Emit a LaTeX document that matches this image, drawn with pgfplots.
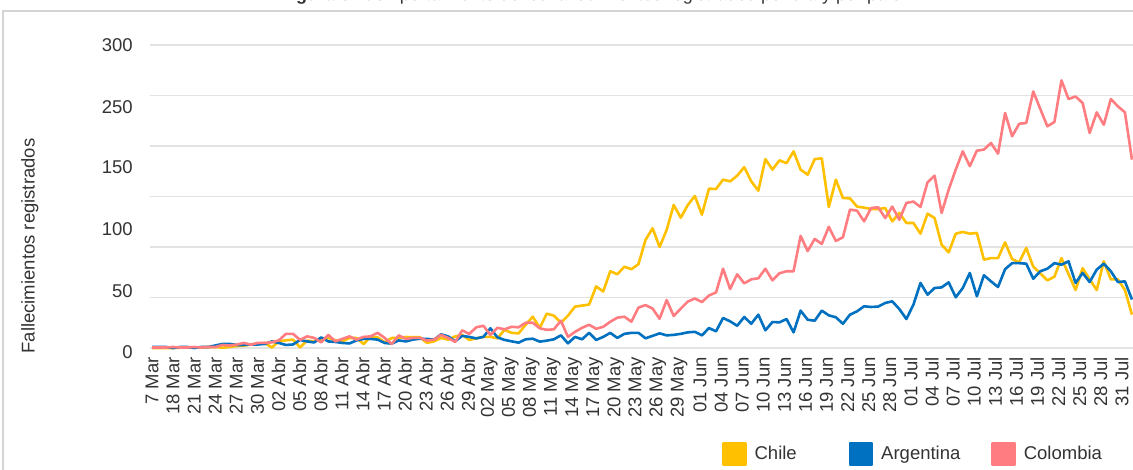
\documentclass[border=0pt]{standalone}
\usepackage{fontspec}
\setmainfont{Liberation Sans}
\usepackage{pgfplots}
\pgfplotsset{compat=1.18}
\usepackage{pgfplotstable}

\definecolor{chileC}{HTML}{FFC000}
\definecolor{argC}{HTML}{0070C0}
\definecolor{colC}{HTML}{FF7C80}
\definecolor{txt}{HTML}{333333}
\definecolor{gridC}{HTML}{E3E3E3}
\definecolor{frameC}{HTML}{D4D4D4}
\newcommand\fs{\fontsize{18.5bp}{22bp}\selectfont}

\pgfplotstableread{
i chile arg col
0 0 1 0.5
1 0 1 0.5
2 0 1 0.5
3 0 0 1
4 0.3 1 0.5
5 0.5 1 0.5
6 0.5 0 1
7 0.7 1 0.5
8 1 1 1
9 1 2.5 1
10 0.3 4 3
11 1 4 2.5
12 2 3 3.3
13 2.3 3 5
14 3.5 3.5 3.3
15 4.3 3.5 5
16 5 4 5
17 0.5 6.5 5.6
18 6.6 5 7.6
19 7.6 3 14
20 8.3 3.5 14
21 0.7 8 8
22 7.3 6.5 11.5
23 6.6 5.5 10
24 8.5 10.5 5.6
25 9.9 6.5 13
26 7.6 6 6.6
27 6.6 5 9
28 9.9 4.5 11.5
29 9.9 7.5 8.3
30 4 9 11
31 10.9 9 11.5
32 10.6 8.3 15
33 5.6 5 10
34 9.9 4.3 4
35 9.9 7.5 12.5
36 10.9 6.5 9
37 10.6 8.3 10
38 10.6 9.2 10
39 5 9 7.3
40 6.6 8.3 8.3
41 9.9 13.5 13
42 8.3 11.5 10
43 11.5 6.6 6
44 13 12 17.5
45 8 11 14
46 9.6 9.5 20.5
47 11 11 22
48 11 19.5 13
49 9.6 10.5 20
50 18 8 18.5
51 15 6.6 21
52 14.5 5.3 20.5
53 23 8.6 25
54 31 9.2 25
55 20 6.3 19.5
56 34 7.3 18
57 32 8.6 18.5
58 25 12.5 27
59 32 4.6 11
60 41 11 16
61 42 8.6 20
62 43 15 23
63 61 8 19
64 56 11 21
65 76 15 26
66 73 10 30
67 80.5 14 31
68 78 15 26
69 83 15 40
70 107 9.6 42.5
71 118.5 12 39
72 100 14.5 29
73 117 12.5 47.5
74 141.6 13 31.7
75 129 14 39
76 141.6 15.5 46
77 150.5 16 49
78 132 12.5 45.5
79 157.8 19.8 52
80 157.4 16.5 55
81 166.7 29.7 78.5
82 165 26.4 58.4
83 170.6 22 73
84 179 30.7 64
85 165 24 68
86 155.8 33 69
87 187 17.5 78.5
88 176.6 25.7 67
89 185.8 25.4 74
90 183 28.7 76
91 194.7 15.5 76
92 176.6 37 111
93 171.6 28 96
94 187 27 108
95 187.8 37 103
96 139.6 32.3 120
97 166.7 30.4 106
98 148.5 24 109.6
99 148.2 33 137
100 140 36.3 136
101 139 41.3 125.4
102 137.6 40.6 138.6
103 137.6 41 139.3
104 138.6 44.6 128.7
105 125.4 46.2 140
106 133.7 38.6 127
107 123.8 28.7 143.6
108 123.8 42.9 145
109 113.2 64.4 139.6
110 133 52.8 164
111 128.7 59.4 170.6
112 102.3 60 133.7
113 94.7 65 156.8
114 113.2 50.2 176.6
115 114.9 59.4 194.7
116 113.2 74.3 180
117 113.9 51.2 195.4
118 87.5 72 196.4
119 89 66 203
120 89 60.4 192.4
121 104.6 78 232.7
122 88 84 209.6
123 84.8 84 222
124 99 83.5 222.8
125 80.5 68.6 254
126 74 76 236.6
127 67 78.5 219.5
128 70.6 84 223.8
129 89 82.5 265
130 73.3 85.8 246.5
131 57.4 64.4 249
132 79 74.3 242.6
133 68 65.3 212.9
134 57.4 77.6 233.3
135 85.8 83.5 221
136 68 76 246.5
137 68 65.3 239.3
138 57.4 66 233.3
139 33 48 186.5
}\data

\begin{document}
\begin{tikzpicture}
\draw[frameC, line width=1.5bp] (3bp,459bp) rectangle (1150bp,-20bp);
\node[anchor=base west, font=\fontsize{18bp}{21bp}\selectfont, text=txt, inner sep=0pt] at (280bp,469.5bp)
  {\textbf{Figura 3.} Comportamiento de los fallecimientos registrados por día y por país};
\begin{axis}[
  at={(149.9bp,116.95bp)}, anchor=south west,
  x=7.05bp, y=1.01bp,
  xmin=-0.3, xmax=140.2, ymin=-5, ymax=300,
  enlargelimits=false,
  axis line style={draw=none},
  major tick length=0pt,
  tick style={draw=none},
  /pgf/number format/assume math mode=true,
  xtick={0,2.99,...,137.6},
  xticklabels={7 Mar,18 Mar,21 Mar,24 Mar,27 Mar,30 Mar,02 Abr,05 Abr,08 Abr,11 Abr,14 Abr,17 Abr,20 Abr,23 Abr,26 Abr,29 Abr,02 May,05 May,08 May,11 May,14 May,17 May,20 May,23 May,26 May,29 May,01 Jun,04 Jun,07 Jun,10 Jun,13 Jun,16 Jun,19 Jun,22 Jun,25 Jun,28 Jun,01 Jul,04 Jul,07 Jul,10 Jul,13 Jul,16 Jul,19 Jul,22 Jul,25 Jul,28 Jul,31 Jul},
  xticklabel style={rotate=90, anchor=east, inner sep=0pt, font=\fs, text=txt},
  xticklabel shift=4bp,
  ytick={-4,56.4,117.8,179.2,238.6,300},
  yticklabels={0,50,100,150,250,300},
  yticklabel style={anchor=east, inner sep=0pt, font=\fs, text=txt},
  yticklabel shift=17bp,
  extra y ticks={0,50,100,150,200,250,300},
  extra y tick labels={},
  extra y tick style={grid=major, major grid style={draw=gridC, line width=1.3bp}},
  ylabel={Fallecimientos registrados},
  ylabel style={at={(axis description cs:-0.1211,0.3475)}, anchor=center, font=\fs, text=txt},
  legend columns=3,
  legend cell align=left,
  legend style={at={(0.5776,-0.3277)}, anchor=west, draw=none, fill=none, inner sep=0pt, outer sep=0pt,
    font=\fs, text=txt, nodes={inner sep=0pt},
    /tikz/every even column/.append style={column sep=0pt},
    /tikz/every odd column/.append style={column sep=8bp}},
  legend image code/.code={\fill[#1] (0bp,-11bp) rectangle (22bp,11bp);},
]
\addplot[chileC, line width=2.6bp, line join=round] table[x=i, y=chile]{\data};
\addlegendentry{\makebox[94bp][l]{Chile}}
\addplot[argC, line width=2.6bp, line join=round] table[x=i, y=arg]{\data};
\addlegendentry{\makebox[110bp][l]{Argentina}}
\addplot[colC, line width=2.6bp, line join=round] table[x=i, y=col]{\data};
\addlegendentry{Colombia}
\end{axis}
\pgfresetboundingbox
\path[use as bounding box] (0bp,0bp) rectangle (1133bp,470bp);
\end{tikzpicture}
\end{document}
